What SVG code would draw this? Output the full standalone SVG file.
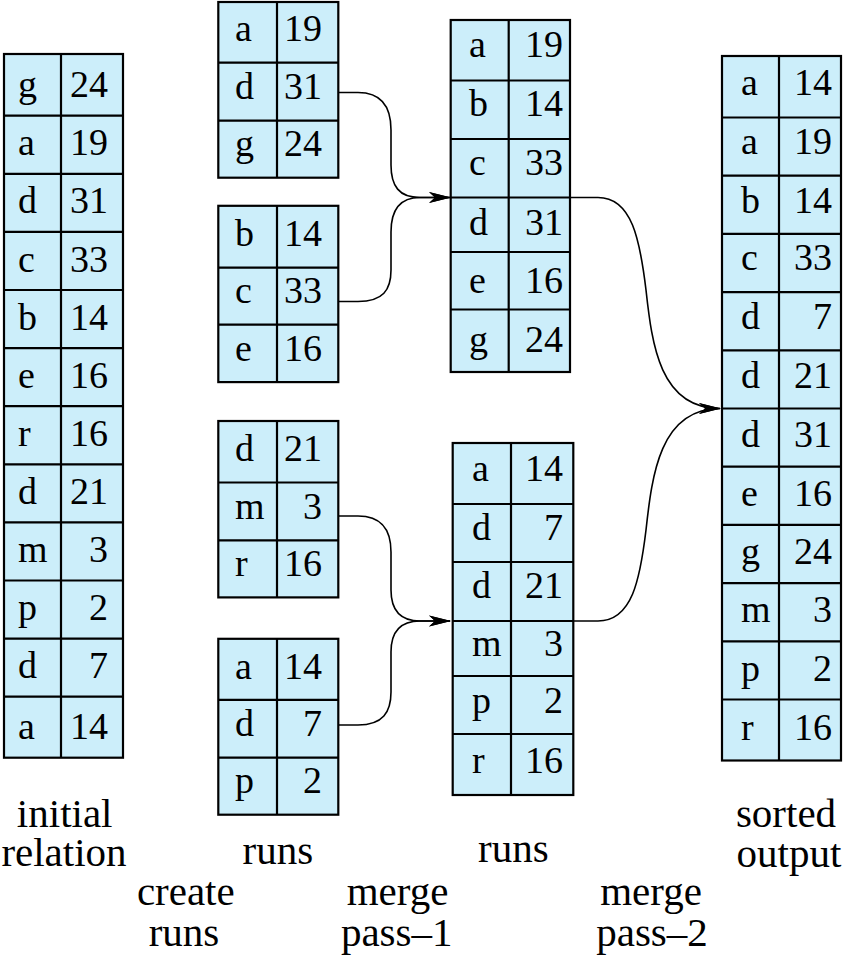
<svg xmlns="http://www.w3.org/2000/svg" width="845" height="955" viewBox="0 0 845 955">
<style>
.box{fill:#CCEEFA;stroke:#000;stroke-width:2.2}
.ln{stroke:#000;stroke-width:2.2;fill:none}
.k{font-family:"Liberation Serif","Times New Roman",serif;font-size:38px;fill:#000;text-anchor:start}
.v{font-family:"Liberation Serif","Times New Roman",serif;font-size:38px;fill:#000;text-anchor:end}
.lbl{font-family:"Liberation Serif","Times New Roman",serif;font-size:41px;fill:#000;text-anchor:middle}
.con{stroke:#000;stroke-width:1.6;fill:none;marker-end:url(#arr)}
</style>
<defs>
<marker id="arr" markerUnits="userSpaceOnUse" markerWidth="22" markerHeight="12" refX="21" refY="6" orient="auto">
<path d="M0,0.5 L22,6 L0,11.5 L6,6 Z" fill="#000"/>
</marker>
</defs>
<rect width="845" height="955" fill="#fff"/>

<g id="initial-relation">
<rect class="box" x="4" y="54" width="119" height="703.7"/>
<path class="ln" d="M61,54V757.7 M4,115.7H123 M4,173.8H123 M4,231.9H123 M4,290H123 M4,348.1H123 M4,406.2H123 M4,464.3H123 M4,522.4H123 M4,580.5H123 M4,638.6H123 M4,696.7H123"/>
<text class="k" x="18" y="97.2">g</text><text class="v" x="108" y="97.2">24</text>
<text class="k" x="18" y="155.3">a</text><text class="v" x="108" y="155.3">19</text>
<text class="k" x="18" y="213.4">d</text><text class="v" x="108" y="213.4">31</text>
<text class="k" x="18" y="271.5">c</text><text class="v" x="108" y="271.5">33</text>
<text class="k" x="18" y="329.6">b</text><text class="v" x="108" y="329.6">14</text>
<text class="k" x="18" y="387.7">e</text><text class="v" x="108" y="387.7">16</text>
<text class="k" x="18" y="445.8">r</text><text class="v" x="108" y="445.8">16</text>
<text class="k" x="18" y="503.9">d</text><text class="v" x="108" y="503.9">21</text>
<text class="k" x="18" y="562">m</text><text class="v" x="108" y="562">3</text>
<text class="k" x="18" y="620.1">p</text><text class="v" x="108" y="620.1">2</text>
<text class="k" x="18" y="678.2">d</text><text class="v" x="108" y="678.2">7</text>
<text class="k" x="18" y="739.2">a</text><text class="v" x="108" y="739.2">14</text>
</g>

<g id="run-1">
<rect class="box" x="218.3" y="2" width="120" height="175.7"/>
<path class="ln" d="M277,2V177.7 M218.3,62.7H338.3 M218.3,120.7H338.3"/>
<text class="k" x="235" y="41.4">a</text><text class="v" x="322" y="41.4">19</text>
<text class="k" x="235" y="99.4">d</text><text class="v" x="322" y="99.4">31</text>
<text class="k" x="235" y="156.4">g</text><text class="v" x="322" y="156.4">24</text>
</g>

<g id="run-2">
<rect class="box" x="218.3" y="205.8" width="120" height="176.3"/>
<path class="ln" d="M277,205.8V382.1 M218.3,267.7H338.3 M218.3,324.7H338.3"/>
<text class="k" x="235" y="246.4">b</text><text class="v" x="322" y="246.4">14</text>
<text class="k" x="235" y="303.4">c</text><text class="v" x="322" y="303.4">33</text>
<text class="k" x="235" y="360.8">e</text><text class="v" x="322" y="360.8">16</text>
</g>

<g id="run-3">
<rect class="box" x="218.3" y="421" width="120" height="176.4"/>
<path class="ln" d="M277,421V597.4 M218.3,482.5H338.3 M218.3,540.4H338.3"/>
<text class="k" x="235" y="461.2">d</text><text class="v" x="322" y="461.2">21</text>
<text class="k" x="235" y="519.1">m</text><text class="v" x="322" y="519.1">3</text>
<text class="k" x="235" y="576.1">r</text><text class="v" x="322" y="576.1">16</text>
</g>

<g id="run-4">
<rect class="box" x="218.3" y="638.8" width="120" height="175.9"/>
<path class="ln" d="M277,638.8V814.7 M218.3,699.8H338.3 M218.3,757.7H338.3"/>
<text class="k" x="235" y="678.5">a</text><text class="v" x="322" y="678.5">14</text>
<text class="k" x="235" y="736.4">d</text><text class="v" x="322" y="736.4">7</text>
<text class="k" x="235" y="793.4">p</text><text class="v" x="322" y="793.4">2</text>
</g>

<g id="merged-run-1">
<rect class="box" x="450.7" y="20" width="119.3" height="352"/>
<path class="ln" d="M508.7,20V372 M450.7,80.5H570 M450.7,139H570 M450.7,197.5H570 M450.7,252H570 M450.7,309.5H570"/>
<text class="k" x="469" y="57">a</text><text class="v" x="563" y="57">19</text>
<text class="k" x="469" y="116">b</text><text class="v" x="563" y="116">14</text>
<text class="k" x="469" y="174.5">c</text><text class="v" x="563" y="174.5">33</text>
<text class="k" x="469" y="234.5">d</text><text class="v" x="563" y="234.5">31</text>
<text class="k" x="469" y="292.5">e</text><text class="v" x="563" y="292.5">16</text>
<text class="k" x="469" y="351.5">g</text><text class="v" x="563" y="351.5">24</text>
</g>

<g id="merged-run-2">
<rect class="box" x="452.7" y="443" width="120.6" height="352"/>
<path class="ln" d="M511,443V795 M452.7,504H573.3 M452.7,562H573.3 M452.7,621H573.3 M452.7,676H573.3 M452.7,734H573.3"/>
<text class="k" x="472" y="480.5">a</text><text class="v" x="563" y="480.5">14</text>
<text class="k" x="472" y="539.5">d</text><text class="v" x="563" y="539.5">7</text>
<text class="k" x="472" y="597.5">d</text><text class="v" x="563" y="597.5">21</text>
<text class="k" x="472" y="655.5">m</text><text class="v" x="563" y="655.5">3</text>
<text class="k" x="472" y="713">p</text><text class="v" x="563" y="713">2</text>
<text class="k" x="472" y="772.5">r</text><text class="v" x="563" y="772.5">16</text>
</g>

<g id="sorted-output">
<rect class="box" x="722" y="56" width="119" height="704.5"/>
<path class="ln" d="M779,56V760.5 M722,117.5H841 M722,175.7H841 M722,233.9H841 M722,292.1H841 M722,350.3H841 M722,408.5H841 M722,466.7H841 M722,524.9H841 M722,583.1H841 M722,641.3H841 M722,699.5H841"/>
<text class="k" x="741" y="95.3">a</text><text class="v" x="832" y="95.3">14</text>
<text class="k" x="741" y="154.3">a</text><text class="v" x="832" y="154.3">19</text>
<text class="k" x="741" y="212.6">b</text><text class="v" x="832" y="212.6">14</text>
<text class="k" x="741" y="270">c</text><text class="v" x="832" y="270">33</text>
<text class="k" x="741" y="329">d</text><text class="v" x="832" y="329">7</text>
<text class="k" x="741" y="387.5">d</text><text class="v" x="832" y="387.5">21</text>
<text class="k" x="741" y="447">d</text><text class="v" x="832" y="447">31</text>
<text class="k" x="741" y="506">e</text><text class="v" x="832" y="506">16</text>
<text class="k" x="741" y="563.5">g</text><text class="v" x="832" y="563.5">24</text>
<text class="k" x="741" y="622">m</text><text class="v" x="832" y="622">3</text>
<text class="k" x="741" y="681">p</text><text class="v" x="832" y="681">2</text>
<text class="k" x="741" y="739.5">r</text><text class="v" x="832" y="739.5">16</text>
</g>

<g id="connectors">
<path class="con" d="M338.3,92.5 H358 C382,92.5 391,108 391,130 V165 C391,186 399,197.5 420,197.5 H450"/>
<path class="con" d="M338.3,301.5 H358 C383,301.5 391,290 391,270 V232 C391,210 400,197.5 420,197.5 H450"/>
<path class="con" d="M338.3,516 H358 C382,516 391,530 391,552 V590 C391,610 400,621 420,621 H450"/>
<path class="con" d="M338.3,725 H358 C383,725 391,712 391,692 V652 C391,632 400,621 420,621 H450"/>
<path class="con" d="M570,197.5 H598 C632,197.5 640,240 646,290 C652,345 660,408.5 720,408.5"/>
<path class="con" d="M573.3,621 H598 C632,621 640,580 646,530 C652,475 660,408.5 720,408.5"/>
</g>

<g id="labels">
<text class="lbl" x="64.7" y="826.7">initial</text>
<text class="lbl" x="64" y="866">relation</text>
<text class="lbl" x="277.8" y="864">runs</text>
<text class="lbl" x="185.8" y="905">create</text>
<text class="lbl" x="184" y="946">runs</text>
<text class="lbl" x="513.3" y="862">runs</text>
<text class="lbl" x="397.5" y="905">merge</text>
<text class="lbl" x="396.7" y="946">pass–1</text>
<text class="lbl" x="651" y="905">merge</text>
<text class="lbl" x="652" y="946">pass–2</text>
<text class="lbl" x="786" y="827.3">sorted</text>
<text class="lbl" x="789" y="866.7">output</text>
</g>
</svg>
